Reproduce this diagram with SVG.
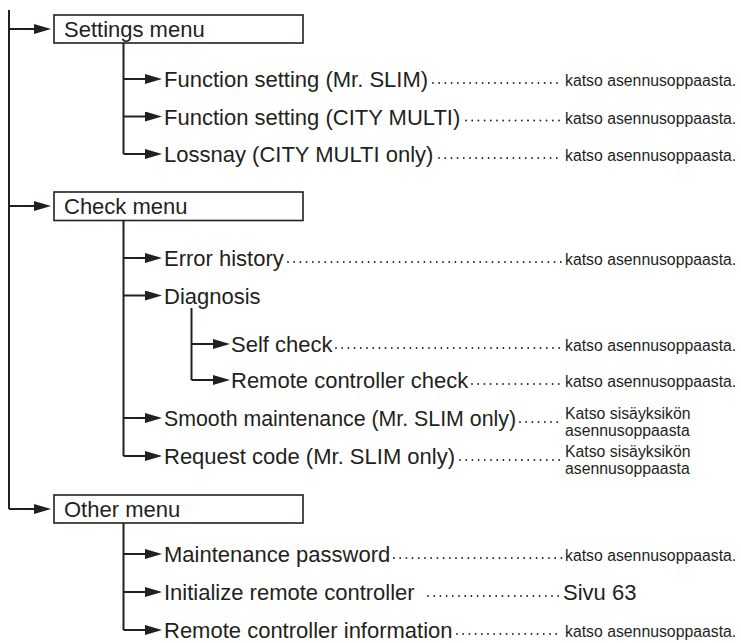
<svg xmlns="http://www.w3.org/2000/svg" width="741" height="643" viewBox="0 0 741 643">
<defs>
<marker id="ah" markerUnits="userSpaceOnUse" markerWidth="17" markerHeight="10" refX="0" refY="5" orient="auto" viewBox="0 0 17 10"><path d="M0,0 L17,5 L0,10 Z" fill="#231f20"/></marker>
<style>
.ln{fill:none;stroke:#231f20;stroke-width:2}
.ar{fill:none;stroke:#231f20;stroke-width:2;marker-end:url(#ah)}
.dots{fill:none;stroke:#231f20;stroke-width:1.8;stroke-linecap:round;stroke-dasharray:0 6.2}
.box{fill:#fff;stroke:#231f20;stroke-width:1.6}
.t{font-family:"Liberation Sans",Arial,sans-serif;font-size:22px;fill:#231f20}
.s{font-family:"Liberation Sans",Arial,sans-serif;font-size:15.8px;fill:#231f20}
</style>
</defs>
<rect width="741" height="643" fill="#fff"/>
<g id="connectors">
<path class="ln" d="M9,10 V509"/>
<path class="ar" d="M9,29 H34"/>
<path class="ar" d="M9,206 H34"/>
<path class="ar" d="M9,509 H34"/>
<path class="ln" d="M123.5,43 V154"/>
<path class="ar" d="M123.5,79 H145"/>
<path class="ar" d="M123.5,116.5 H145"/>
<path class="ar" d="M123.5,154 H145"/>
<path class="ln" d="M123.5,221 V456"/>
<path class="ar" d="M123.5,258 H145"/>
<path class="ar" d="M123.5,295.5 H145"/>
<path class="ln" d="M191.5,308 V380"/>
<path class="ar" d="M191.5,344 H213"/>
<path class="ar" d="M191.5,380 H213"/>
<path class="ar" d="M123.5,418 H145"/>
<path class="ar" d="M123.5,456 H145"/>
<path class="ln" d="M123.5,523 V630"/>
<path class="ar" d="M123.5,554 H145"/>
<path class="ar" d="M123.5,592 H145"/>
<path class="ar" d="M123.5,630 H145"/>
<path class="dots" d="M433,83 H562"/>
<path class="dots" d="M466,120.5 H562"/>
<path class="dots" d="M439,158 H562"/>
<path class="dots" d="M288,262 H562"/>
<path class="dots" d="M336,348 H562"/>
<path class="dots" d="M472,384 H562"/>
<path class="dots" d="M520,422 H562"/>
<path class="dots" d="M460,460 H562"/>
<path class="dots" d="M394,558 H562"/>
<path class="dots" d="M428,596 H560"/>
<path class="dots" d="M457,634 H562"/>
</g>
<g id="settings-menu"><rect class="box" x="54" y="15" width="249" height="28"/><text class="t" x="64" y="37">Settings menu</text></g>
<g id="function-setting-mr-slim"><text class="t" x="164" y="87">Function setting (Mr. SLIM)</text><text class="s" x="565" y="86">katso asennusoppaasta.</text></g>
<g id="function-setting-city-multi"><text class="t" x="164" y="124.5">Function setting (CITY MULTI)</text><text class="s" x="565" y="123.5">katso asennusoppaasta.</text></g>
<g id="lossnay"><text class="t" x="164" y="162">Lossnay (CITY MULTI only)</text><text class="s" x="565" y="161">katso asennusoppaasta.</text></g>
<g id="check-menu"><rect class="box" x="54" y="192" width="249" height="28.5"/><text class="t" x="64" y="214">Check menu</text></g>
<g id="error-history"><text class="t" x="164" y="266">Error history</text><text class="s" x="565" y="265">katso asennusoppaasta.</text></g>
<g id="diagnosis"><text class="t" x="164" y="303.5">Diagnosis</text></g>
<g id="self-check"><text class="t" x="231" y="352">Self check</text><text class="s" x="565" y="351">katso asennusoppaasta.</text></g>
<g id="remote-controller-check"><text class="t" x="231" y="388">Remote controller check</text><text class="s" x="565" y="387">katso asennusoppaasta.</text></g>
<g id="smooth-maintenance"><text class="t" x="164" y="426" textLength="352" lengthAdjust="spacingAndGlyphs">Smooth maintenance (Mr. SLIM only)</text><text class="s" x="565" y="419">Katso sisäyksikön</text><text class="s" x="565" y="436">asennusoppaasta</text></g>
<g id="request-code"><text class="t" x="164" y="464">Request code (Mr. SLIM only)</text><text class="s" x="565" y="457">Katso sisäyksikön</text><text class="s" x="565" y="474">asennusoppaasta</text></g>
<g id="other-menu"><rect class="box" x="54" y="495" width="249" height="28"/><text class="t" x="64" y="517">Other menu</text></g>
<g id="maintenance-password"><text class="t" x="164" y="562">Maintenance password</text><text class="s" x="565" y="561">katso asennusoppaasta.</text></g>
<g id="initialize-remote-controller"><text class="t" x="164" y="600">Initialize remote controller</text><text class="t" x="563" y="600">Sivu 63</text></g>
<g id="remote-controller-information"><text class="t" x="164" y="638">Remote controller information</text><text class="s" x="565" y="637">katso asennusoppaasta.</text></g>
</svg>
